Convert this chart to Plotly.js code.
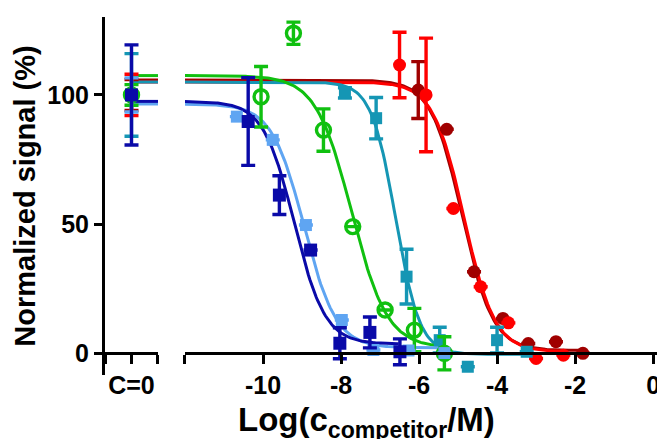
<!DOCTYPE html>
<html>
<head>
<meta charset="utf-8">
<script src="https://cdn.plot.ly/plotly-3.0.1.min.js"></script>
<style>html,body{margin:0;padding:0;background:#fff;}#chart{width:657px;height:439px;}</style>
</head>
<body>
<div id="chart"></div>
<script>
// ---- Data ----
// C=0 (no competitor) control values, one per series
const c0Values = [100, 100, 100, 100, 100, 100];
// series order: darkRed, red, teal, green, lightBlue, darkBlue
const c0Errors = [6, 8, 16, 4, 6.6, 19.4];

const darkBlueX = [-10.38, -9.58, -8.78, -8.03, -7.26, -6.49];
const darkBlueY = [89.7, 61.2, 39.9, 3.8, 8.0, 0.5];
const darkBlueErr = [17, 7.5, 0, 6, 6, 5];

const lightBlueX = [-10.67, -9.75, -8.9, -7.98, -7.17, -6.27, -5.35];
const lightBlueY = [91.6, 82.6, 49.6, 12.8, 1.2, 1.0, 0.0];
const lightBlueErr = [0, 0, 0, 0, 0, 0, 0];

const greenX = [-10.05, -9.22, -8.45, -7.7, -6.87, -6.12, -5.35];
const greenY = [99.3, 123.9, 86.4, 49.0, 16.7, 8.9, -0.1];
const greenErr = [11.7, 4.3, 8.2, 0, 0, 8.4, 6.4];

const tealX = [-7.9, -7.1, -6.32, -5.47, -4.75, -4.0, -3.24];
const tealY = [100.8, 91.0, 29.6, 5.0, -5.3, 5.0, 0.5];
const tealErr = [2, 8, 10.6, 5, 0, 5, 0];

const redX = [-6.5, -5.82, -5.12, -4.42, -3.71, -3.0, -2.3];
const redY = [111.6, 100.0, 56.0, 25.7, 11.7, -2.1, -0.8];
const redErr = [12.7, 22, 0, 0, 0, 0, 0];

const darkRedX = [-6.02, -5.29, -4.59, -3.85, -3.2, -2.49, -1.8];
const darkRedY = [101.9, 86.7, 31.5, 13.4, 3.7, 4.4, -0.1];
const darkRedErr = [11, 0, 0, 0, 0, 0, 0];

// fitted sigmoid parameters: [top, bottom, logIC50, hill]
const darkBlueFit = [97.5, 3.5, -9.2, 1.1];
const lightBlueFit = [96.5, 2.0, -8.95, 1.05];
const greenFit = [107.5, 2.0, -7.73, 0.95];
const tealFit = [105.0, -0.5, -6.6, 1.4];
const redFit = [105.0, 0.5, -4.85, 1.1];
const darkRedFit = [105.8, 1.0, -4.9, 1.1];

// x tick labels
const mainTicks = [-12, -10, -8, -6, -4, -2, 0];
const mainTickText = ['', '-10', '-8', '-6', '-4', '-2', '0'];
const c0Ticks = [-1, 0, 1];
const c0TickText = ['', 'C=0', ''];
const yTicks = [0, 50, 100];
const xTitle = 'Log(c<sub>competitor</sub>/M)';
const yTitle = 'Normalized signal (%)';

// ---- Styles ----
const colors = {
  darkRed: '#a00000', red: '#ff0000', teal: '#1596b4',
  green: '#10c010', lightBlue: '#5fa5f2', darkBlue: '#0a0aa8'
};
const FONT = 'Liberation Sans, Arial, sans-serif';
const XMIN = -12, XMAX = 0.1;

function curve(fit, xEnd) {
  const xs = [], ys = [];
  const [top, bottom, c, h] = fit;
  for (let x = XMIN; x <= xEnd + 1e-9; x += 0.04) {
    xs.push(x);
    ys.push(bottom + (top - bottom) / (1 + Math.pow(10, (x - c) * h)));
  }
  return {xs, ys};
}

const series = [
  {name: 'darkRed', x: darkRedX, y: darkRedY, e: darkRedErr, fit: darkRedFit, sym: 'circle', size: 13, c0i: 0},
  {name: 'red', x: redX, y: redY, e: redErr, fit: redFit, sym: 'circle', size: 13, c0i: 1},
  {name: 'teal', x: tealX, y: tealY, e: tealErr, fit: tealFit, sym: 'square', size: 12, c0i: 2},
  {name: 'green', x: greenX, y: greenY, e: greenErr, fit: greenFit, sym: 'circle-open', size: 14, c0i: 3},
  {name: 'lightBlue', x: lightBlueX, y: lightBlueY, e: lightBlueErr, fit: lightBlueFit, sym: 'square', size: 12, c0i: 4},
  {name: 'darkBlue', x: darkBlueX, y: darkBlueY, e: darkBlueErr, fit: darkBlueFit, sym: 'square', size: 13, c0i: 5}
];

const traces = [];
series.forEach(s => {
  const col = colors[s.name];
  const cv = curve(s.fit, Math.max(...s.x));
  traces.push({x: cv.xs, y: cv.ys, xaxis: 'x2', yaxis: 'y', mode: 'lines',
    line: {color: col, width: 3}, hoverinfo: 'skip', showlegend: false});
  traces.push({x: [0, 1], y: [s.fit[0], s.fit[0]], xaxis: 'x', yaxis: 'y', mode: 'lines',
    line: {color: col, width: 3}, hoverinfo: 'skip', showlegend: false});
});
series.forEach(s => {
  const col = colors[s.name];
  const open = s.sym === 'circle-open';
  const marker = {symbol: s.sym, size: s.size, color: col,
    line: {color: col, width: open ? 3.4 : 0}};
  traces.push({x: s.x, y: s.y, xaxis: 'x2', yaxis: 'y', mode: 'markers', marker,
    error_y: {type: 'data', array: s.e, visible: true, color: col, thickness: 3.4, width: 7},
    showlegend: false});
  traces.push({x: [0], y: [c0Values[s.c0i]], xaxis: 'x', yaxis: 'y', mode: 'markers', marker,
    error_y: {type: 'data', array: [c0Errors[s.c0i]], visible: true, color: col, thickness: 3.4, width: 7},
    showlegend: false});
});
// empty traces so the cap axes are drawn
traces.push({x: [], y: [], xaxis: 'x3', yaxis: 'y', mode: 'markers', showlegend: false});
traces.push({x: [], y: [], xaxis: 'x4', yaxis: 'y', mode: 'markers', showlegend: false});

const tickFont = {family: FONT, size: 25, color: '#000', weight: 'bold'};
const axisCommon = {
  showline: true, linewidth: 3, linecolor: '#000', ticks: 'outside', ticklen: 9,
  tickwidth: 3, tickcolor: '#000', showgrid: false, zeroline: false, tickfont: tickFont,
  tickmode: 'array', fixedrange: true, ticklabeloverflow: 'allow'
};
const xPos = 0.0615;
const c0Domain = [0, 0.096], mainDomain = [0.1449, 1];
const capAxis = {showline: false, showgrid: false, zeroline: false, ticks: 'inside', ticklen: 8,
  tickwidth: 3, tickcolor: '#000', showticklabels: false, tickmode: 'array',
  anchor: 'free', position: xPos, fixedrange: true};
const layout = {
  width: 657, height: 439,
  margin: {l: 105, r: 0, t: 17, b: 64, pad: 0},
  paper_bgcolor: '#fff', plot_bgcolor: '#fff',
  showlegend: false,
  xaxis: Object.assign({}, axisCommon, {domain: c0Domain, range: [-1, 1],
    anchor: 'free', position: xPos, tickvals: c0Ticks, ticktext: c0TickText}),
  xaxis2: Object.assign({}, axisCommon, {domain: mainDomain, range: [XMIN, XMAX],
    anchor: 'free', position: xPos, tickvals: mainTicks, ticktext: mainTickText}),
  xaxis3: Object.assign({}, capAxis, {overlaying: 'x2', domain: mainDomain, range: [XMIN, XMAX], tickvals: [XMIN]}),
  xaxis4: Object.assign({}, capAxis, {overlaying: 'x', domain: c0Domain, range: [-1, 1], tickvals: [1]}),
  yaxis: Object.assign({}, axisCommon, {domain: [0, 1], range: [-8.5, 130.2], anchor: 'x',
    tickvals: yTicks, ticklen: 8,
    title: {text: yTitle, font: {family: FONT, size: 29, color: '#000', weight: 'bold'}, standoff: 4}}),
  annotations: [{
    text: xTitle, xref: 'paper', yref: 'paper', x: 0.4746, y: -0.13,
    xanchor: 'center', yanchor: 'middle', showarrow: false,
    font: {family: FONT, size: 33, color: '#000', weight: 'bold'}
  }]
};

Plotly.newPlot('chart', traces, layout, {staticPlot: true, displayModeBar: false});
</script>
</body>
</html>
